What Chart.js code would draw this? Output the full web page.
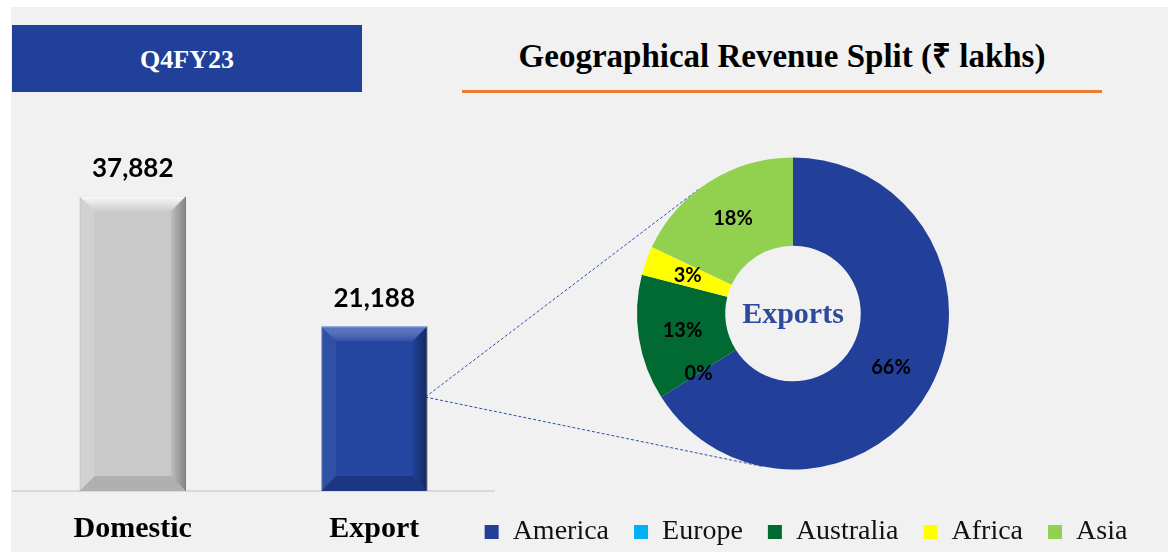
<!DOCTYPE html>
<html>
<head>
<meta charset="utf-8">
<script src="https://cdn.jsdelivr.net/npm/chart.js@4"></script>
<style>
  body { margin: 0; background: #fff; width: 1168px; height: 552px; overflow: hidden; position: relative; }
  #panel { position: absolute; left: 11px; top: 7px; right: 0; bottom: 0; background: #f1f1f1; }
  #period { position: absolute; left: 12px; top: 25px; width: 350px; height: 67px; background: #21409a;
            color: #fff; font: bold 26px "Liberation Serif", serif; line-height: 69px; text-align: center; }
  #title { position: absolute; left: 462px; top: 36px; width: 640px; text-align: center;
           font: bold 33px "Liberation Serif", serif; color: #000; line-height: 40px; }
  #rule { position: absolute; left: 462px; top: 90px; width: 640px; height: 3px; background: #ed7d31; }
  #barWrap { position: absolute; left: 12px; top: 100px; width: 483px; height: 463px; }
  #pieWrap { position: absolute; left: 433px; top: 100px; width: 746px; height: 456px; }
  #overlay { position: absolute; left: 0; top: 0; pointer-events: none; }
</style>
</head>
<body>
<div id="panel"></div>
<div id="period">Q4FY23</div>
<div id="title">Geographical Revenue Split (₹ lakhs)</div>
<div id="rule"></div>
<canvas id="overlay" width="1168" height="552"></canvas>
<div id="barWrap"><canvas id="barChart"></canvas></div>
<div id="pieWrap"><canvas id="pieChart"></canvas></div>
<script>
// revenue by market (₹ lakhs)
const markets = ['Domestic', 'Export'];
const revenue = [37882, 21188];

// export split by region (%)
const regions = ['America', 'Europe', 'Australia', 'Africa', 'Asia'];
const regionShare = [66, 0, 13, 3, 18];
const regionColors = ['#223f99', '#00b0f0', '#006a32', '#ffff00', '#92d050'];

// bevelled look for the bars
const bevel = {
    id: 'bevel',
    afterDatasetsDraw(chart) {
        const ctx = chart.ctx;
        const shades = [
            { light: 'rgba(255,255,255,0.9)', side: 'rgba(255,255,255,0.15)', dark: 'rgba(0,0,0,0.35)', bottom: 'rgba(0,0,0,0.12)' },
            { light: 'rgba(120,150,230,0.55)', side: 'rgba(255,255,255,0.06)', dark: 'rgba(0,0,20,0.45)', bottom: 'rgba(0,0,30,0.22)' }
        ];
        chart.getDatasetMeta(0).data.forEach((bar, i) => {
            const l = bar.x - bar.width / 2, r = bar.x + bar.width / 2;
            const t = bar.y, b = bar.base, s = 15;
            const sh = shades[i];
            ctx.save();
            // top
            let g = ctx.createLinearGradient(0, t, 0, t + s);
            g.addColorStop(0, sh.light);
            g.addColorStop(1, 'rgba(255,255,255,0.05)');
            ctx.fillStyle = g;
            ctx.beginPath(); ctx.moveTo(l, t); ctx.lineTo(r, t); ctx.lineTo(r - s, t + s); ctx.lineTo(l + s, t + s); ctx.closePath(); ctx.fill();
            // left
            ctx.fillStyle = sh.side;
            ctx.beginPath(); ctx.moveTo(l, t); ctx.lineTo(l + s, t + s); ctx.lineTo(l + s, b - s); ctx.lineTo(l, b); ctx.closePath(); ctx.fill();
            // right
            g = ctx.createLinearGradient(r - s, 0, r, 0);
            g.addColorStop(0, 'rgba(0,0,0,0.05)');
            g.addColorStop(1, sh.dark);
            ctx.fillStyle = g;
            ctx.beginPath(); ctx.moveTo(r, t); ctx.lineTo(r, b); ctx.lineTo(r - s, b - s); ctx.lineTo(r - s, t + s); ctx.closePath(); ctx.fill();
            // bottom
            ctx.fillStyle = sh.bottom;
            ctx.beginPath(); ctx.moveTo(l, b); ctx.lineTo(r, b); ctx.lineTo(r - s, b - s); ctx.lineTo(l + s, b - s); ctx.closePath(); ctx.fill();
            // value
            ctx.fillStyle = '#000';
            ctx.font = 'bold 26px Lato, sans-serif';
            ctx.textAlign = 'center';
            ctx.textBaseline = 'alphabetic';
            ctx.fillText(revenue[i].toLocaleString('en-US'), bar.x, t - 19);
            ctx.restore();
        });
    }
};

const barChart = new Chart(document.getElementById('barChart'), {
    type: 'bar',
    data: {
        labels: markets,
        datasets: [{
            data: revenue,
            backgroundColor: ['#c9c9c9', '#2446a0'],
            borderColor: ['#a0a0a0', '#7f8fb8'],
            borderWidth: 1,
            barPercentage: 0.44,
            categoryPercentage: 1
        }]
    },
    options: {
        responsive: true,
        maintainAspectRatio: false,
        animation: false,
        layout: { padding: { top: 41, bottom: 4, left: 0, right: 0 } },
        plugins: { legend: { display: false }, tooltip: { enabled: false } },
        scales: {
            x: {
                grid: { display: false },
                border: { display: true, color: '#d9d9d9', width: 2 },
                ticks: { color: '#000', padding: 12, font: { family: 'Liberation Serif', size: 30, weight: 'bold' } }
            },
            y: { display: false, min: 0, max: 45000 }
        }
    },
    plugins: [bevel]
});

// percentages on the ring and the centre caption
const ringText = {
    id: 'ringText',
    afterDatasetsDraw(chart) {
        const ctx = chart.ctx;
        const arcs = chart.getDatasetMeta(0).data;
        ctx.save();
        ctx.fillStyle = '#000';
        ctx.font = 'bold 20px Lato, sans-serif';
        ctx.textAlign = 'center';
        ctx.textBaseline = 'middle';
        arcs.forEach((arc, i) => {
            const p = arc.getCenterPoint();
            ctx.fillText(regionShare[i] + '%', p.x, p.y);
        });
        ctx.fillStyle = '#2e4a9e';
        ctx.font = 'bold 30px "Liberation Serif", serif';
        ctx.fillText('Exports', arcs[0].x, arcs[0].y + 2);
        ctx.restore();
    }
};

const pieChart = new Chart(document.getElementById('pieChart'), {
    type: 'doughnut',
    data: {
        labels: regions,
        datasets: [{
            data: regionShare,
            backgroundColor: regionColors,
            borderWidth: 0,
            radius: 156,
            cutout: 78
        }]
    },
    options: {
        responsive: true,
        maintainAspectRatio: false,
        animation: false,
        layout: { padding: { top: 34, bottom: 0 } },
        plugins: {
            tooltip: { enabled: false },
            // empty spacer on the right so the ring sits a little left of the legend
            title: { display: true, text: ' ', position: 'right', fullSize: false, font: { size: 10 }, padding: 7 },
            legend: {
                position: 'bottom',
                labels: {
                    color: '#111',
                    boxWidth: 14,
                    boxHeight: 14,
                    padding: 25,
                    font: { family: 'Liberation Serif', size: 28 }
                }
            }
        }
    },
    plugins: [ringText]
});

// dashed connectors from the export bar to the ring
function drawConnectors() {
    const ctx = document.getElementById('overlay').getContext('2d');
    const bw = document.getElementById('barWrap'), pw = document.getElementById('pieWrap');
    const bar = barChart.getDatasetMeta(0).data[1];
    const arc = pieChart.getDatasetMeta(0).data[0];
    const px = bw.offsetLeft + bar.x + bar.width / 2 - 2;
    const py = bw.offsetTop + bar.y + (bar.base - bar.y) * 0.43;
    const cx = pw.offsetLeft + arc.x, cy = pw.offsetTop + arc.y, R = arc.outerRadius;
    const d = Math.hypot(cx - px, cy - py);
    const phi = Math.atan2(cy - py, cx - px), alpha = Math.asin(R / d);
    const L = Math.sqrt(d * d - R * R);
    ctx.strokeStyle = '#2f4fa8';
    ctx.lineWidth = 1;
    ctx.setLineDash([3, 2]);
    [phi - alpha, phi + alpha].forEach(a => {
        ctx.beginPath();
        ctx.moveTo(px, py);
        ctx.lineTo(px + L * Math.cos(a), py + L * Math.sin(a));
        ctx.stroke();
    });
}
drawConnectors();
</script>
</body>
</html>
